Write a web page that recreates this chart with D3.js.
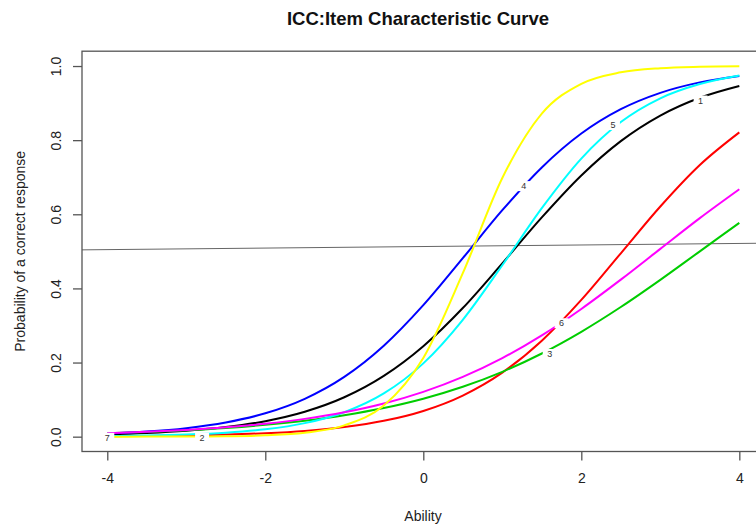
<!DOCTYPE html>
<html>
<head>
<meta charset="utf-8">
<script src="https://cdn.jsdelivr.net/npm/d3@7"></script>
<style>
  html, body { margin: 0; padding: 0; background: #fff; }
  svg { display: block; }
  text { font-family: "Liberation Sans", Arial, sans-serif; }
</style>
</head>
<body>
<svg id="chart" width="756" height="524"></svg>
<script>
// ---- data ----
const theta = [-4, -3.5, -3, -2.5, -2, -1.5, -1, -0.5, 0, 0.5, 1, 1.5, 2, 2.5, 3, 3.5, 4];
const item1 = [0.0059, 0.0097, 0.0158, 0.0258, 0.0419, 0.0673, 0.1063, 0.164, 0.244, 0.347, 0.4675, 0.5915, 0.7047, 0.7974, 0.8664, 0.9145, 0.9463];
const item2 = [0.0012, 0.0020, 0.0034, 0.0056, 0.0094, 0.0156, 0.0259, 0.0427, 0.0694, 0.111, 0.1728, 0.259, 0.369, 0.4948, 0.621, 0.733, 0.821];
const item3 = [0.0095, 0.0129, 0.0175, 0.0237, 0.032, 0.0431, 0.0579, 0.0773, 0.1025, 0.1347, 0.175, 0.2244, 0.283, 0.3498, 0.4231, 0.5, 0.5769];
const item4 = [0.0082, 0.0137, 0.023, 0.0383, 0.0631, 0.1022, 0.1613, 0.2453, 0.3547, 0.4816, 0.611, 0.7264, 0.8178, 0.8836, 0.9277, 0.9559, 0.9734];
const item5 = [0.0017, 0.0031, 0.0058, 0.0107, 0.0198, 0.0365, 0.066, 0.1166, 0.1978, 0.3154, 0.4626, 0.6166, 0.7503, 0.8488, 0.9129, 0.9514, 0.9745];
const item6 = [0.0093, 0.013, 0.0181, 0.0251, 0.0348, 0.048, 0.0658, 0.0896, 0.121, 0.1614, 0.212, 0.2733, 0.3446, 0.4236, 0.5067, 0.5896, 0.6675];
const item7 = [0.00005, 0.00015, 0.00043, 0.00124, 0.00365, 0.0106, 0.0305, 0.084, 0.2123, 0.441, 0.698, 0.8715, 0.952, 0.983, 0.9942, 0.998, 0.9993];
const series = [item1, item2, item3, item4, item5, item6, item7];
const colors = ["#000000", "#FF0000", "#00CD00", "#0000FF", "#00FFFF", "#FF00FF", "#FFFF00"];
const itemLabels = ["1", "2", "3", "4", "5", "6", "7"];
const labelTheta = [3.51, -2.80, 1.60, 1.27, 2.40, 1.75, -4.0];
const labelP = [0.907, -0.003, 0.223, 0.676, 0.841, 0.306, -0.003];
const xTicks = [-4, -2, 0, 2, 4];
const yTicks = [0, 0.2, 0.4, 0.6, 0.8, 1.0];
const hline = [{t: -4.32, p: 0.504}, {t: 4.32, p: 0.522}];
const title = "ICC:Item Characteristic Curve";
const xTitle = "Ability";
const yTitle = "Probability of a correct response";

// ---- layout ----
const svg = d3.select("#chart");
const mLeft = 82, mRight = 764.6, mTop = 51.2, mBottom = 451.5;
const x = d3.scaleLinear().domain([-4.32, 4.32]).range([mLeft, mRight]);
const y = d3.scaleLinear().domain([-0.04, 1.04]).range([mBottom, mTop]);

svg.append("rect").attr("width", 756).attr("height", 524).attr("fill", "#fff");

// reference line
svg.append("path")
  .datum(hline)
  .attr("d", d3.line().x(d => x(d.t)).y(d => y(d.p)))
  .attr("stroke", "#666").attr("stroke-width", 1).attr("fill", "none");

// curves
const line = d3.line().x((d, i) => x(theta[i])).y(d => y(d)).curve(d3.curveMonotoneX);
series.forEach((s, k) => {
  svg.append("path")
    .datum(s)
    .attr("d", line)
    .attr("fill", "none")
    .attr("stroke", colors[k])
    .attr("stroke-width", 2);
});

// curve labels
itemLabels.forEach((lab, k) => {
  const cx = x(labelTheta[k]), cy = y(labelP[k]);
  svg.append("rect")
    .attr("x", cx - 7).attr("y", cy - 5).attr("width", 14).attr("height", 10)
    .attr("fill", "#fff");
  svg.append("text")
    .attr("x", cx).attr("y", cy).attr("dy", "0.35em")
    .attr("text-anchor", "middle")
    .attr("font-size", 9).attr("fill", "#333")
    .text(lab);
});

// box
svg.append("rect")
  .attr("x", mLeft).attr("y", mTop).attr("width", mRight - mLeft).attr("height", mBottom - mTop)
  .attr("fill", "none").attr("stroke", "#555").attr("stroke-width", 1.3);

// x axis
const gx = svg.append("g").attr("transform", `translate(0,${mBottom})`)
  .call(d3.axisBottom(x).tickValues(xTicks).tickFormat(d3.format("d")).tickSize(9).tickSizeOuter(0).tickPadding(13));
gx.select(".domain").remove();
gx.selectAll(".tick line").attr("stroke", "#555").attr("stroke-width", 1.3);
gx.selectAll(".tick text").attr("font-size", 14).attr("fill", "#222")
  .attr("font-family", "Liberation Sans, Arial, sans-serif")
  .text(d => d < 0 ? "-" + Math.abs(d) : String(d));

// y axis
const gy = svg.append("g").attr("transform", `translate(${mLeft},0)`)
  .call(d3.axisLeft(y).tickValues(yTicks).tickFormat(d3.format(".1f")).tickSize(9).tickSizeOuter(0));
gy.select(".domain").remove();
gy.selectAll(".tick line").attr("stroke", "#555").attr("stroke-width", 1.3);
gy.selectAll(".tick text")
  .attr("x", null).attr("y", 0).attr("dy", "0.35em")
  .attr("text-anchor", "middle")
  .attr("transform", "translate(-26,0) rotate(-90)")
  .attr("font-size", 14).attr("fill", "#222")
  .attr("font-family", "Liberation Sans, Arial, sans-serif");

// titles
svg.append("text").attr("x", 418).attr("y", 25)
  .attr("text-anchor", "middle").attr("font-size", 18.5).attr("font-weight", "bold").attr("fill", "#111")
  .text(title);
svg.append("text").attr("x", 423).attr("y", 521)
  .attr("text-anchor", "middle").attr("font-size", 14).attr("fill", "#222")
  .text(xTitle);
svg.append("text")
  .attr("transform", `translate(20,${(mTop + mBottom) / 2}) rotate(-90)`)
  .attr("dy", "0.35em")
  .attr("text-anchor", "middle").attr("font-size", 14).attr("fill", "#222")
  .text(yTitle);
</script>
</body>
</html>
